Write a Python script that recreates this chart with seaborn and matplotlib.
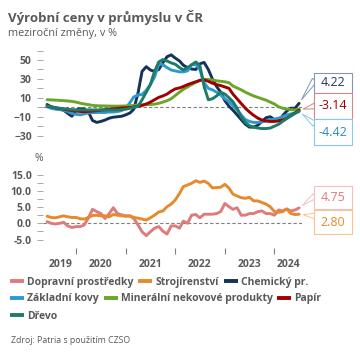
import matplotlib
matplotlib.use("Agg")
import matplotlib.pyplot as plt
import matplotlib.dates as mdates
from matplotlib.lines import Line2D
from matplotlib.patches import Rectangle
from matplotlib.ticker import FixedLocator, NullFormatter, FormatStrFormatter
import numpy as np
import pandas as pd
import seaborn as sns

sns.set_style("white")
plt.rcParams['font.family'] = ['Open Sans', 'DejaVu Sans']

SEDA = "#595959"

# mesicni data od 6/2019 do 7/2024
mesice = pd.date_range("2019-06-01", periods=62, freq="MS")

dopravni = [0.5, 0.0, -0.2, 0.0, 0.3, -0.8, -1.3, -1.0, -1.0, -0.5,
            1.7, 4.3, 3.6, 3.0, 1.5, 3.0, 4.8, 3.0, 2.6, 2.3,
            2.2, 1.5, -0.5, -2.6, -3.8, -2.6, -1.5, -1.0, -2.4, -3.3,
            -0.8, -0.8, -1.5, 0.7, 0.0, 2.5, 2.7, 1.7, 2.8, 2.8,
            2.8, 3.0, 3.6, 6.1, 5.1, 4.3, 4.8, 2.5, 2.5, 3.0,
            3.0, 3.6, 3.8, 3.0, 3.0, 2.5, 4.1, 3.8, 4.4, 3.8,
            4.1, 4.75]
strojirenstvi = [2.2, 1.8, 1.7, 2.0, 2.3, 2.0, 1.8, 1.8, 1.4, 1.3,
                 1.8, 2.4, 2.5, 2.3, 2.3, 2.0, 2.7, 2.5, 2.3, 2.2,
                 2.3, 1.8, 1.6, 1.3, 1.0, 1.7, 2.5, 3.5, 3.8, 5.1,
                 5.9, 7.2, 9.2, 11.3, 11.8, 12.3, 13.1, 12.6, 13.0, 12.3,
                 10.9, 11.0, 11.1, 12.0, 10.8, 9.0, 8.4, 7.9, 7.7, 8.0,
                 6.9, 6.9, 6.4, 5.9, 5.1, 3.6, 3.4, 3.6, 4.4, 3.0,
                 2.7, 2.80]
chemicky = [3.0, 0.5, -1.0, -2.0, -3.0, -6.5, -9.5, -3.0, -1.5, -2.0,
            -5.0, -14.0, -16.0, -15.0, -13.5, -11.5, -10.5, -10.0, -9.5, -8.0,
            -6.0, -2.0, 15.0, 38.0, 43.0, 39.5, 38.0, 40.0, 47.0, 53.5,
            55.5, 52.0, 49.0, 44.5, 42.0, 40.5, 40.0, 46.0, 47.5, 40.0,
            30.0, 22.0, 16.0, 7.0, 1.0, -3.0, -8.0, -13.0, -18.0, -21.0,
            -21.0, -19.0, -15.0, -11.0, -10.0, -13.0, -14.0, -9.0, -4.0, -1.0,
            -1.0, 4.22]
kovy = [0.5, -1.0, -2.0, -2.5, -3.0, -4.5, -6.5, -7.5, -8.0, -7.0,
        -6.0, -5.5, -5.5, -5.5, -5.5, -5.0, -5.0, -4.5, -3.5, -1.0,
        5.0, 11.0, 13.0, 13.5, 18.0, 24.0, 32.0, 46.0, 45.0, 42.0,
        39.5, 38.5, 37.5, 37.5, 38.5, 45.0, 45.5, 40.0, 26.0, 20.0,
        18.5, 16.0, 13.0, 9.0, 6.0, 2.0, -3.0, -8.0, -13.0, -15.0,
        -16.0, -16.0, -15.5, -14.5, -13.5, -12.5, -11.5, -10.0, -8.0, -7.0,
        -6.0, -4.42]
mineralni = [8.0, 7.8, 7.6, 7.3, 7.0, 6.7, 6.2, 5.5, 4.3, 3.5,
             2.8, 2.0, 1.7, 1.5, 1.4, 1.3, 1.2, 1.2, 1.3, 1.4,
             1.6, 2.0, 2.4, 2.6, 2.8, 3.0, 3.3, 4.2, 5.5, 7.0,
             9.0, 12.5, 16.0, 19.0, 21.5, 24.0, 26.5, 28.5, 29.5, 29.5,
             29.0, 28.0, 27.5, 27.0, 26.0, 22.5, 20.5, 18.5, 16.0, 14.0,
             12.0, 10.5, 9.0, 7.5, 5.5, 3.5, 0.5, -1.0, -1.8, -2.5,
             -2.8, -2.0]
papir = [1.5, 0.5, -0.5, -1.2, -2.0, -2.8, -3.5, -4.0, -4.5, -4.6,
         -4.3, -4.0, -3.6, -3.0, -2.5, -2.0, -1.6, -1.2, -0.8, -0.5,
         -0.3, 0.2, 1.0, 2.0, 3.5, 5.5, 8.0, 10.5, 12.0, 14.0,
         17.0, 19.5, 20.5, 22.0, 24.0, 25.5, 27.0, 28.5, 29.0, 27.5,
         25.5, 24.0, 23.0, 21.5, 20.0, 14.0, 9.0, 4.0, -1.0, -5.0,
         -8.5, -11.5, -13.5, -14.5, -15.0, -15.0, -14.5, -13.5, -11.5, -9.0,
         -6.0, -3.14]
drevo = [1.5, 0.5, -0.5, -1.0, -1.5, -2.0, -2.5, -2.8, -2.8, -2.8,
         -2.8, -2.8, -2.8, -2.8, -2.8, -2.8, -2.8, -2.8, -2.5, -2.0,
         -1.0, 0.0, 1.0, 8.0, 16.0, 24.0, 38.0, 48.0, 50.5, 49.0,
         47.0, 45.5, 42.0, 39.5, 42.0, 45.0, 48.0, 44.0, 22.0, 8.0,
         9.0, 12.0, 16.0, 14.0, 10.0, 6.0, -1.0, -10.0, -16.0, -19.5,
         -21.0, -22.0, -22.5, -22.5, -22.0, -20.0, -18.0, -15.0, -12.0, -9.0,
         -6.5, -4.0]

barvy = {
    "Dopravní prostředky": "#E07B7B",
    "Strojírenství": "#E8892C",
    "Chemický pr.": "#14325C",
    "Základní kovy": "#2C9AD1",
    "Minerální nekovové produkty": "#6BA52A",
    "Papír": "#A00000",
    "Dřevo": "#1E7B68",
}

horni = {"Chemický pr.": chemicky, "Základní kovy": kovy,
         "Minerální nekovové produkty": mineralni, "Papír": papir, "Dřevo": drevo}
dolni = {"Dopravní prostředky": dopravni, "Strojírenství": strojirenstvi}


def dlouhy(serie):
    return pd.concat([pd.DataFrame({"datum": mesice, "hodnota": v, "odvetvi": k})
                      for k, v in serie.items()], ignore_index=True)


df_h = dlouhy(horni)
df_d = dlouhy(dolni)

fig = plt.figure(figsize=(3.6, 3.6), dpi=100)
ax1 = fig.add_axes([0.1194, 0.597, 0.7194, 0.2677])
ax2 = fig.add_axes([0.1194, 0.3111, 0.7194, 0.2175])

sns.lineplot(data=df_h, x="datum", y="hodnota", hue="odvetvi", hue_order=list(horni),
             palette=barvy, linewidth=2.1, ax=ax1, legend=False)
sns.lineplot(data=df_d, x="datum", y="hodnota", hue="odvetvi", hue_order=list(dolni),
             palette=barvy, linewidth=2.1, ax=ax2, legend=False)

xlim = (pd.Timestamp("2019-05-02"), pd.Timestamp("2024-07-22"))
for ax in (ax1, ax2):
    ax.set_xlim(xlim)
    ax.axhline(0, color="#7F7F7F", lw=0.8, ls=(0, (3, 2)), zorder=0)
    for s in ax.spines.values():
        s.set_visible(False)
    ax.set_xlabel("")
    ax.set_ylabel("")
    ax.tick_params(axis="y", which="both", left=True, length=4, width=0.7,
                   color="#A6A6A6", labelsize=7.5, labelcolor=SEDA, pad=4)

# horni panel
ax1.set_ylim(-40, 62)
ax1.yaxis.set_major_locator(FixedLocator([-30, -10, 10, 30, 50]))
ax1.yaxis.set_minor_locator(FixedLocator([-20, 0, 20, 40, 60]))
ax1.set_xticks([])
for lab in ax1.get_yticklabels():
    lab.set_fontweight("bold")

# dolni panel
ax2.set_ylim(-7.6, 16.5)
ax2.yaxis.set_major_locator(FixedLocator([-5, 0, 5, 10, 15]))
ax2.yaxis.set_minor_locator(FixedLocator([-2.5, 2.5, 7.5, 12.5]))
ax2.yaxis.set_major_formatter(FormatStrFormatter("%.1f"))
for lab in ax2.get_yticklabels():
    lab.set_fontweight("bold")

roky = [pd.Timestamp(f"{r}-01-01") for r in range(2020, 2025)]
popisky_pos = [pd.Timestamp("2019-09-05"), pd.Timestamp("2020-07-01"), pd.Timestamp("2021-07-01"),
               pd.Timestamp("2022-07-01"), pd.Timestamp("2023-07-01"), pd.Timestamp("2024-04-12")]
ax2.xaxis.set_major_locator(FixedLocator(mdates.date2num(roky)))
ax2.xaxis.set_major_formatter(NullFormatter())
ax2.xaxis.set_minor_locator(FixedLocator(mdates.date2num(popisky_pos)))
ax2.set_xticklabels(["2019", "2020", "2021", "2022", "2023", "2024"], minor=True)
ax2.tick_params(axis="x", which="major", bottom=True, length=4, width=0.8, color="#7F7F7F")
ax2.tick_params(axis="x", which="minor", bottom=True, length=0, pad=8,
                labelsize=7.5, labelcolor=SEDA)
for lab in ax2.get_xticklabels(minor=True):
    lab.set_fontweight("bold")

ax2.text(0.0, 1.07, "%", transform=ax2.transAxes, fontsize=7.5, color=SEDA,
         ha="right", va="bottom")

# titulky
fig.text(0.022, 0.952, "Výrobní ceny v průmyslu v ČR", fontsize=9.5, fontweight="bold",
         color=SEDA, va="center")
fig.text(0.022, 0.908, "meziroční změny, v %", fontsize=7.8, color=SEDA, va="center")
fig.text(0.03, 0.053, "Zdroj: Patria s použitím CZSO", fontsize=6.3, color=SEDA, va="center")


# popisky poslednich hodnot
def stitek(ax, serie, text, box_top, box_bot, kotva, barva, okraj):
    W, H = 360.0, 360.0
    x0, x1 = 314 / W, 352 / W
    y0, y1 = 1 - box_bot / H, 1 - box_top / H
    ax.annotate("", xy=(mdates.date2num(mesice[-1]), serie[-1]),
                xytext=(x0 + 0.002, 1 - kotva / H), textcoords="figure fraction",
                arrowprops=dict(arrowstyle="wedge,tail_width=0.45", fc="white", ec=okraj,
                                lw=0.7, shrinkA=0, shrinkB=3),
                annotation_clip=False, fontsize=9, zorder=5)
    fig.add_artist(Rectangle((x0, y0), x1 - x0, y1 - y0, transform=fig.transFigure,
                             fc="white", ec=okraj, lw=0.8, zorder=6))
    fig.text((x0 + x1) / 2, (y0 + y1) / 2, text, color=barva, fontsize=9,
             ha="center", va="center", zorder=7)


stitek(ax1, chemicky, "4.22", 73, 93, 80, "#1F3864", "#8497B0")
stitek(ax1, papir, "-3.14", 93, 119, 106, "#A00000", "#D08A8A")
stitek(ax1, kovy, "-4.42", 119, 145, 124, "#2C8AC0", "#8CC8E5")
stitek(ax2, dopravni, "4.75", 186, 209, 196, "#E07B7B", "#F2BFBF")
stitek(ax2, strojirenstvi, "2.80", 210, 234, 216, "#E8892C", "#F5C58F")


# legenda ve trech radcich
def radek(nazvy, y):
    h = [Line2D([0], [0], color=barvy[n], lw=2.8, solid_capstyle="butt") for n in nazvy]
    leg = fig.legend(h, nazvy, loc="center left", bbox_to_anchor=(0.028, y), ncol=len(nazvy),
                     frameon=False, fontsize=7.5, handlelength=1.35, handletextpad=0.3,
                     columnspacing=0.45, borderpad=0, borderaxespad=0)
    for t in leg.get_texts():
        t.set_color(SEDA)
        t.set_fontweight("bold")


radek(["Dopravní prostředky", "Strojírenství", "Chemický pr."], 1 - 282 / 360)
radek(["Základní kovy", "Minerální nekovové produkty", "Papír"], 1 - 299 / 360)
radek(["Dřevo"], 1 - 316.5 / 360)

fig.savefig("out.png", dpi=100)
